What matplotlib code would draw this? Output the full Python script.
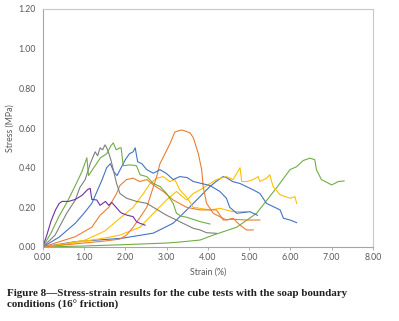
import matplotlib
matplotlib.use("Agg")
import matplotlib.pyplot as plt

# ---- data (strain %, stress MPa) ----
purple_x = [0, 0.1, 0.2, 0.31, 0.4, 0.47, 0.63, 0.79, 0.95, 1.09, 1.15, 1.19, 1.31, 1.39, 1.52, 1.6, 1.67, 1.80, 1.87, 1.92, 2.05, 2.19, 2.27, 2.35, 2.48]
purple_y = [0, 0.06, 0.13, 0.187, 0.22, 0.23, 0.23, 0.24, 0.26, 0.29, 0.296, 0.24, 0.237, 0.21, 0.23, 0.21, 0.225, 0.195, 0.178, 0.17, 0.16, 0.153, 0.128, 0.12, 0.11]

green1_x = [0, 0.2, 0.39, 0.6, 0.79, 0.95, 1.07, 1.11, 1.27, 1.4, 1.55, 1.65, 1.71, 1.78, 1.87, 1.9, 1.95, 2.11, 2.27, 2.36, 2.52, 2.68, 2.84, 3.0, 3.16, 3.24, 3.36, 3.49, 3.81, 4.05]
green1_y = [0, 0.07, 0.153, 0.23, 0.31, 0.38, 0.45, 0.36, 0.41, 0.45, 0.47, 0.51, 0.525, 0.49, 0.50, 0.50, 0.41, 0.414, 0.41, 0.364, 0.355, 0.32, 0.305, 0.27, 0.22, 0.17, 0.155, 0.15, 0.128, 0.116]

gray_x = [0, 0.3, 0.58, 0.79, 0.9, 1.03, 1.06, 1.15, 1.27, 1.33, 1.39, 1.45, 1.51, 1.55, 1.59, 1.65, 1.71, 1.79, 1.87, 2.03, 2.27, 2.52, 2.68, 2.92, 3.0, 3.24, 3.49, 3.65, 3.81, 3.97, 4.21]
gray_y = [0, 0.06, 0.17, 0.237, 0.3, 0.34, 0.36, 0.42, 0.48, 0.46, 0.50, 0.49, 0.515, 0.50, 0.48, 0.44, 0.39, 0.32, 0.27, 0.246, 0.23, 0.22, 0.2, 0.17, 0.16, 0.136, 0.11, 0.094, 0.086, 0.072, 0.069]

blue1_x = [0, 0.4, 0.79, 1.0, 1.19, 1.44, 1.55, 1.64, 1.72, 1.8, 1.9, 2.0, 2.1, 2.19, 2.24, 2.3, 2.4, 2.52, 2.68, 2.84, 3.0, 3.16, 3.32, 3.5, 3.65, 3.85, 4.05, 4.29, 4.45, 4.53, 4.7, 5.02, 5.2]
blue1_y = [0, 0.05, 0.12, 0.17, 0.22, 0.34, 0.40, 0.42, 0.38, 0.36, 0.40, 0.44, 0.47, 0.48, 0.50, 0.43, 0.42, 0.39, 0.372, 0.39, 0.37, 0.34, 0.355, 0.35, 0.33, 0.32, 0.31, 0.28, 0.246, 0.2, 0.17, 0.178, 0.16]

blue2_x = [0, 0.79, 1.92, 2.68, 3.16, 3.49, 3.81, 4.05, 4.2, 4.37, 4.45, 4.6, 4.78, 5.1, 5.26, 5.42, 5.75, 5.83, 5.99, 6.15]
blue2_y = [0, 0.027, 0.044, 0.07, 0.12, 0.187, 0.254, 0.305, 0.33, 0.355, 0.35, 0.33, 0.32, 0.288, 0.27, 0.22, 0.187, 0.145, 0.136, 0.123]

orange2_x = [0, 0.79, 1.19, 1.39, 1.6, 1.79, 1.87, 2.03, 2.19, 2.35, 2.52, 2.68, 2.92, 3.16, 3.49, 3.81, 4.0, 4.21, 4.37, 4.6, 4.94, 5.26]
orange2_y = [0, 0.052, 0.10, 0.16, 0.2, 0.27, 0.31, 0.34, 0.347, 0.33, 0.34, 0.313, 0.28, 0.237, 0.2, 0.187, 0.187, 0.187, 0.136, 0.14, 0.136, 0.136]

orange1_x = [0, 1.0, 1.5, 1.87, 2.03, 2.19, 2.36, 2.52, 2.76, 2.84, 3.08, 3.2, 3.36, 3.45, 3.57, 3.65, 3.77, 3.85, 3.89, 3.97, 4.13, 4.45, 4.61, 4.78, 4.94, 5.1]
orange1_y = [0, 0.02, 0.03, 0.04, 0.06, 0.1, 0.15, 0.2, 0.355, 0.42, 0.52, 0.58, 0.59, 0.585, 0.575, 0.55, 0.47, 0.39, 0.30, 0.22, 0.17, 0.136, 0.145, 0.11, 0.086, 0.086]

yellow1_x = [0, 0.5, 1.03, 1.5, 1.87, 2.19, 2.44, 2.6, 2.76, 2.92, 3.08, 3.2, 3.32, 3.49, 3.65, 3.81, 4.05, 4.29, 4.61, 4.94]
yellow1_y = [0, 0.015, 0.035, 0.08, 0.145, 0.2, 0.27, 0.32, 0.347, 0.355, 0.33, 0.34, 0.288, 0.25, 0.2, 0.195, 0.187, 0.195, 0.178, 0.178]

yellow2_x = [0, 0.5, 1.03, 1.5, 1.87, 2.36, 2.68, 3.0, 3.24, 3.35, 3.49, 3.65, 3.81, 4.21, 4.45, 4.61, 4.78, 4.82, 4.94, 5.1, 5.22, 5.26, 5.42, 5.5, 5.58, 5.75, 5.99, 6.11, 6.15]
yellow2_y = [0, 0.012, 0.03, 0.045, 0.06, 0.1, 0.17, 0.237, 0.28, 0.26, 0.237, 0.27, 0.288, 0.34, 0.355, 0.34, 0.40, 0.33, 0.33, 0.34, 0.355, 0.33, 0.347, 0.364, 0.305, 0.263, 0.246, 0.254, 0.22]

green2_x = [0, 1.0, 2.0, 3.0, 3.32, 3.81, 4.13, 4.7, 5.18, 5.67, 5.99, 6.15, 6.31, 6.47, 6.59, 6.63, 6.75, 7.0, 7.16, 7.3]
green2_y = [0, 0.005, 0.012, 0.02, 0.025, 0.035, 0.06, 0.10, 0.17, 0.30, 0.39, 0.405, 0.436, 0.448, 0.44, 0.39, 0.34, 0.313, 0.33, 0.333]

x_ticks = [0, 1, 2, 3, 4, 5, 6, 7, 8]
y_ticks = [0.0, 0.2, 0.4, 0.6, 0.8, 1.0, 1.2]

BLUE = "#4472C4"
ORANGE = "#ED7D31"
GRAY = "#7F7F7F"
YELLOW = "#FFC000"
GREEN = "#70AD47"
PURPLE = "#7030A0"

series = [
    (green2_x, green2_y, GREEN),
    (blue2_x, blue2_y, BLUE),
    (yellow1_x, yellow1_y, YELLOW),
    (yellow2_x, yellow2_y, YELLOW),
    (orange1_x, orange1_y, ORANGE),
    (orange2_x, orange2_y, ORANGE),
    (blue1_x, blue1_y, BLUE),
    (gray_x, gray_y, GRAY),
    (green1_x, green1_y, GREEN),
    (purple_x, purple_y, PURPLE),
]

fig = plt.figure(figsize=(3.99, 3.21), dpi=100)
ax = fig.add_axes([42.7 / 399, 1 - 247 / 321, (373 - 42.7) / 399, (247 - 9) / 321])

for xs, ys, c in series:
    ax.plot(xs, ys, color=c, lw=0.8, solid_joinstyle="round")

ax.set_xlim(0, 8)
ax.set_ylim(0, 1.2)
ax.set_xticks(x_ticks)
ax.set_yticks(y_ticks)
ax.set_xticklabels([f"{v:.2f}" for v in x_ticks])
ax.set_yticklabels([f"{v:.2f}" for v in y_ticks])
for s in ax.spines.values():
    s.set_color("#C8C8C8")
    s.set_linewidth(0.8)
ax.spines["bottom"].set_color("#A6A6A6")
ax.spines["left"].set_color("#A6A6A6")
ax.tick_params(axis="x", length=2.5, width=0.6, color="#A6A6A6", labelsize=6.3, labelcolor="#595959", pad=2)
ax.tick_params(axis="y", length=0, labelsize=6.3, labelcolor="#595959", pad=5)
for lab in ax.get_xticklabels() + ax.get_yticklabels():
    lab.set_fontfamily("Lato")

ax.set_xlabel("Strain (%)", fontsize=6.3, color="#595959", fontfamily="Lato", labelpad=4)
ax.set_ylabel("Stress (MPa)", fontsize=6.3, color="#595959", fontfamily="Lato", labelpad=2.5)

fig.text(7 / 399, 1 - 293 / 321, "Figure 8\u2014Stress-strain results for the cube tests with the soap boundary",
         fontsize=7.9, fontweight="bold", fontfamily="Liberation Serif", color="#231F20", va="center", ha="left")
fig.text(7 / 399, 1 - 305 / 321, "conditions (16\u00b0 friction)",
         fontsize=7.9, fontweight="bold", fontfamily="Liberation Serif", color="#231F20", va="center", ha="left")

fig.savefig("out.png", dpi=100)
